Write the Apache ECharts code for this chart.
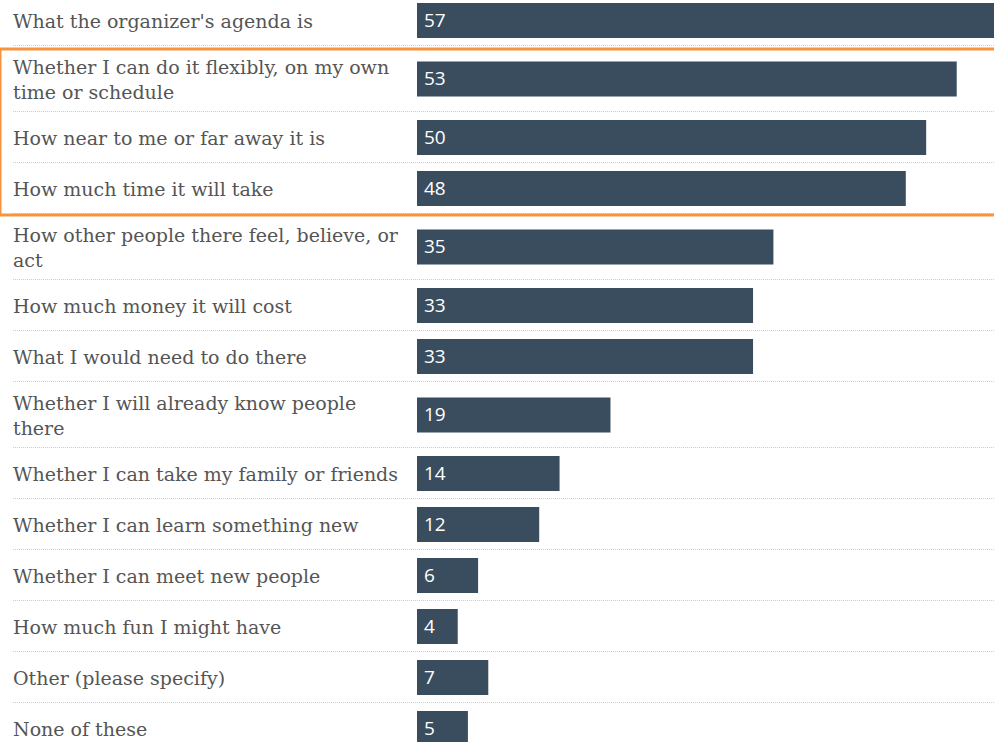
<!DOCTYPE html>
<html>
<head>
<meta charset="utf-8">
<script src="https://cdn.jsdelivr.net/npm/echarts@6/dist/echarts.min.js"></script>
<style>
  html, body { margin: 0; padding: 0; background: #ffffff; }
  #chart { width: 994px; height: 742px; }
</style>
</head>
<body>
<div id="chart"></div>
<script>
// Survey answers (percent of respondents), one row per answer
const categories = [
  "What the organizer's agenda is",
  "Whether I can do it flexibly, on my own\ntime or schedule",
  "How near to me or far away it is",
  "How much time it will take",
  "How other people there feel, believe, or\nact",
  "How much money it will cost",
  "What I would need to do there",
  "Whether I will already know people\nthere",
  "Whether I can take my family or friends",
  "Whether I can learn something new",
  "Whether I can meet new people",
  "How much fun I might have",
  "Other (please specify)",
  "None of these"
];
const values = [57, 53, 50, 48, 35, 33, 33, 19, 14, 12, 6, 4, 7, 5];
// rows outlined as a group
const highlightedRows = [1, 2, 3];

// Row layout: each row is as tall as its bar or its wrapped label, plus padding
const LINE_H = 25, BAR_H = 35, ROW_PAD = 8;
const rowTop = [], rowMid = [], rowBottom = [];
let acc = 0;
categories.forEach(function (c) {
  const lines = c.split('\n').length;
  const h = Math.max(BAR_H, lines * LINE_H) + 2 * ROW_PAD;
  rowTop.push(acc);
  rowMid.push(acc + h / 2);
  acc += h;
  rowBottom.push(acc);
});

const LABEL_FONT = '"DejaVu Serif", serif';
const VALUE_FONT = '"Open Sans", sans-serif';
const BAR_COLOR = '#3a4d5e';
const TEXT_COLOR = '#555555';
const BOX_COLOR = '#f7943d';

const rowData = values.map(function (v, i) { return [v, rowMid[i], i]; });
const sepData = rowBottom.slice(0, -1).map(function (b, i) { return [0, b, i]; });
const boxData = [[0, rowTop[highlightedRows[0]], rowBottom[highlightedRows[highlightedRows.length - 1]]]];

const chart = echarts.init(document.getElementById('chart'), null, { renderer: 'svg' });

chart.setOption({
  animation: false,
  backgroundColor: '#ffffff',
  grid: { left: 417, top: 0, width: 611, height: 742, outerBoundsMode: 'none', containLabel: false },
  xAxis: { type: 'value', min: 0, max: 60, show: false },
  yAxis: { type: 'value', min: 5, max: 747, inverse: true, show: false },
  series: [
    {
      // dotted separators between rows
      type: 'custom',
      z: 1,
      data: sepData,
      renderItem: function (params, api) {
        const p = api.coord([0, api.value(1)]);
        const y = Math.round(p[1]) - 0.5;
        return {
          type: 'line',
          shape: { x1: 13, y1: y, x2: 994, y2: y },
          style: { stroke: '#cccccc', lineWidth: 1, lineDash: [1, 1] }
        };
      }
    },
    {
      // bars, value labels and row labels
      type: 'custom',
      z: 2,
      data: rowData,
      renderItem: function (params, api) {
        const i = api.value(2);
        const start = api.coord([0, api.value(1)]);
        const end = api.coord([api.value(0), api.value(1)]);
        const h = api.size([0, BAR_H])[1];
        return {
          type: 'group',
          children: [
            {
              type: 'rect',
              shape: { x: start[0], y: start[1] - h / 2, width: end[0] - start[0], height: h },
              style: { fill: BAR_COLOR }
            },
            {
              type: 'text',
              x: start[0] + 7,
              y: start[1] - 1,
              style: {
                text: String(api.value(0)),
                fill: '#ffffff',
                fontFamily: VALUE_FONT,
                fontSize: 19,
                align: 'left',
                verticalAlign: 'middle'
              }
            },
            {
              type: 'text',
              x: 13,
              y: start[1],
              style: {
                text: categories[i],
                fill: TEXT_COLOR,
                fontFamily: LABEL_FONT,
                fontSize: 19,
                lineHeight: LINE_H,
                align: 'left',
                verticalAlign: 'middle'
              }
            }
          ]
        };
      }
    },
    {
      // outline around the grouped rows
      type: 'custom',
      z: 3,
      data: boxData,
      renderItem: function (params, api) {
        const top = api.coord([0, api.value(1)])[1] + 3;
        const bottom = api.coord([0, api.value(2)])[1] + 1;
        return {
          type: 'rect',
          shape: { x: 0, y: top, width: 1100, height: bottom - top },
          style: { fill: 'none', stroke: BOX_COLOR, lineWidth: 3 }
        };
      }
    }
  ]
});
</script>
</body>
</html>
